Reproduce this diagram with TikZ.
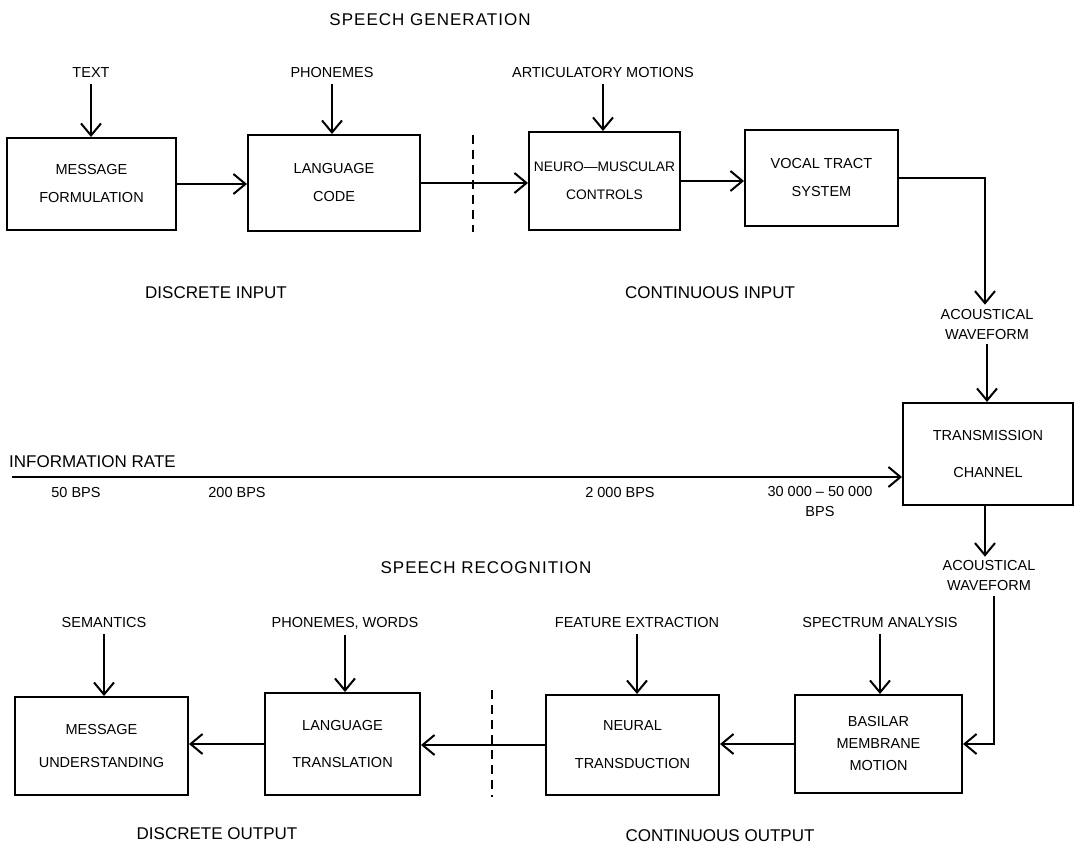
\documentclass[tikz,border=0pt]{standalone}
\usepackage{fontspec}
\setmainfont{Liberation Sans}
\newfontfamily\titlefont[LetterSpace=6]{Liberation Sans}
\usetikzlibrary{arrows.meta,calc}
\begin{document}
\begin{tikzpicture}[x=1pt,y=-1pt,
  box/.style={draw, line width=2pt, inner sep=0pt, align=center, font=\fontsize{14.5}{28}\selectfont},
  box3/.style={box, font=\fontsize{14.5}{22}\selectfont},
  lbl/.style={font=\fontsize{14.5}{20}\selectfont, inner sep=1pt, align=center},
  big/.style={font=\fontsize{17}{20}\selectfont, inner sep=1pt},
  ttl/.style={font=\titlefont\fontsize{17}{20}\selectfont, inner sep=1pt},
  arr/.style={line width=2pt, -{Straight Barb[length=12pt,width=20pt]}},
  sep/.style={line width=2pt, dash pattern=on 9pt off 6pt},
]
\useasboundingbox (0,0) rectangle (1080,851);

% titles and region labels
\node[ttl] (sg) at (430,20) {SPEECH GENERATION};
\node[big] (di) at (216,293) {DISCRETE INPUT};
\node[big] (ci) at (710,293) {CONTINUOUS INPUT};
\node[big, anchor=west] (ir) at (8,462) {INFORMATION RATE};
\node[ttl] (sr) at (486,568) {SPEECH RECOGNITION};
\node[big] (dout) at (217,834) {DISCRETE OUTPUT};
\node[big] (cout) at (720,836) {CONTINUOUS OUTPUT};

% top row boxes
\node[box, minimum width=169, minimum height=92] (mf) at (91.5,184) {MESSAGE\\FORMULATION};
\node[box, minimum width=172, minimum height=96] (lc) at (334,183) {LANGUAGE\\CODE};
\node[box, minimum width=151, minimum height=98, font=\fontsize{13.8}{28}\selectfont] (nm) at (604.5,181) {NEURO—MUSCULAR\\CONTROLS};
\node[box, minimum width=153, minimum height=96] (vt) at (821.5,178) {VOCAL TRACT\\SYSTEM};

% top labels
\node[lbl] (t1) at (91,73) {TEXT};
\node[lbl] (t2) at (332,73) {PHONEMES};
\node[lbl] (t3) at (603,73) {ARTICULATORY MOTIONS};

\draw[arr, shorten <=5pt] (t1.south) -- (t1.south |- mf.north);
\draw[arr, shorten <=5pt] (t2.south) -- (t2.south |- lc.north);
\draw[arr, shorten <=5pt] (t3.south) -- (t3.south |- nm.north);

\draw[arr] (mf.east) -- (mf.east -| lc.west);
\draw[arr] (lc.east) -- (lc.east -| nm.west);
\draw[arr] (nm.east) -- (nm.east -| vt.west);

\coordinate (d1a) at (473,135);
\coordinate (d1b) at (473,232);
\draw[sep] (d1a) -- (d1b);

% channel
\node[lbl] (aw1) at (987,325) {ACOUSTICAL\\WAVEFORM};
\node[box, minimum width=170, minimum height=102, font=\fontsize{14.5}{37}\selectfont] (tc) at (988,454) {TRANSMISSION\\CHANNEL};
\node[lbl] (aw2) at (989,576) {ACOUSTICAL\\WAVEFORM};

\draw[arr] (vt.east) -| ([yshift=4pt]aw1.north -| 985,0);
\draw[arr, shorten <=3pt] (aw1.south) -- (aw1.south |- tc.north);
\draw[arr] (tc.south -| 985,0) -- ([yshift=3pt]aw2.north -| 985,0);

% information rate
\coordinate (irs) at (12,477);
\draw[arr] (irs) -- (irs -| tc.west);
\node[lbl] (r1) at (76,493) {50 BPS};
\node[lbl] (r2) at (237,493) {200 BPS};
\node[lbl] (r3) at (620,493) {2 000 BPS};
\node[lbl] (r4) at (820,502) {30 000 -- 50 000\\BPS};

% bottom row boxes
\node[box3, minimum width=167, minimum height=98] (bm) at (878.5,744) {BASILAR\\MEMBRANE\\MOTION};
\node[box, minimum width=173, minimum height=100, font=\fontsize{14.5}{38}\selectfont] (nt) at (632.5,745) {NEURAL\\TRANSDUCTION};
\node[box, minimum width=155, minimum height=102, font=\fontsize{14.5}{37}\selectfont] (lt) at (342.5,744) {LANGUAGE\\TRANSLATION};
\node[box, minimum width=173, minimum height=98, font=\fontsize{14.5}{33}\selectfont] (mu) at (101.5,746) {MESSAGE\\UNDERSTANDING};

% bottom labels
\node[lbl] (b1) at (104,623) {SEMANTICS};
\node[lbl] (b2) at (345,623) {PHONEMES, WORDS};
\node[lbl] (b3) at (637,623) {FEATURE EXTRACTION};
\node[lbl] (b4) at (880,623) {SPECTRUM ANALYSIS};

\draw[arr, shorten <=5pt] (b1.south) -- (b1.south |- mu.north);
\draw[arr, shorten <=5pt] (b2.south) -- (b2.south |- lt.north);
\draw[arr, shorten <=5pt] (b3.south) -- (b3.south |- nt.north);
\draw[arr, shorten <=5pt] (b4.south) -- (b4.south |- bm.north);

\draw[arr, shorten <=4pt] ([xshift=5pt]aw2.south) |- (bm.east);
\draw[arr] (bm.west) -- (bm.west -| nt.east);
\draw[arr] (nt.west) -- (nt.west -| lt.east);
\draw[arr] (lt.west) -- (lt.west -| mu.east);

\coordinate (d2a) at (492,690);
\coordinate (d2b) at (492,797);
\draw[sep] (d2a) -- (d2b);
\end{tikzpicture}
\end{document}
